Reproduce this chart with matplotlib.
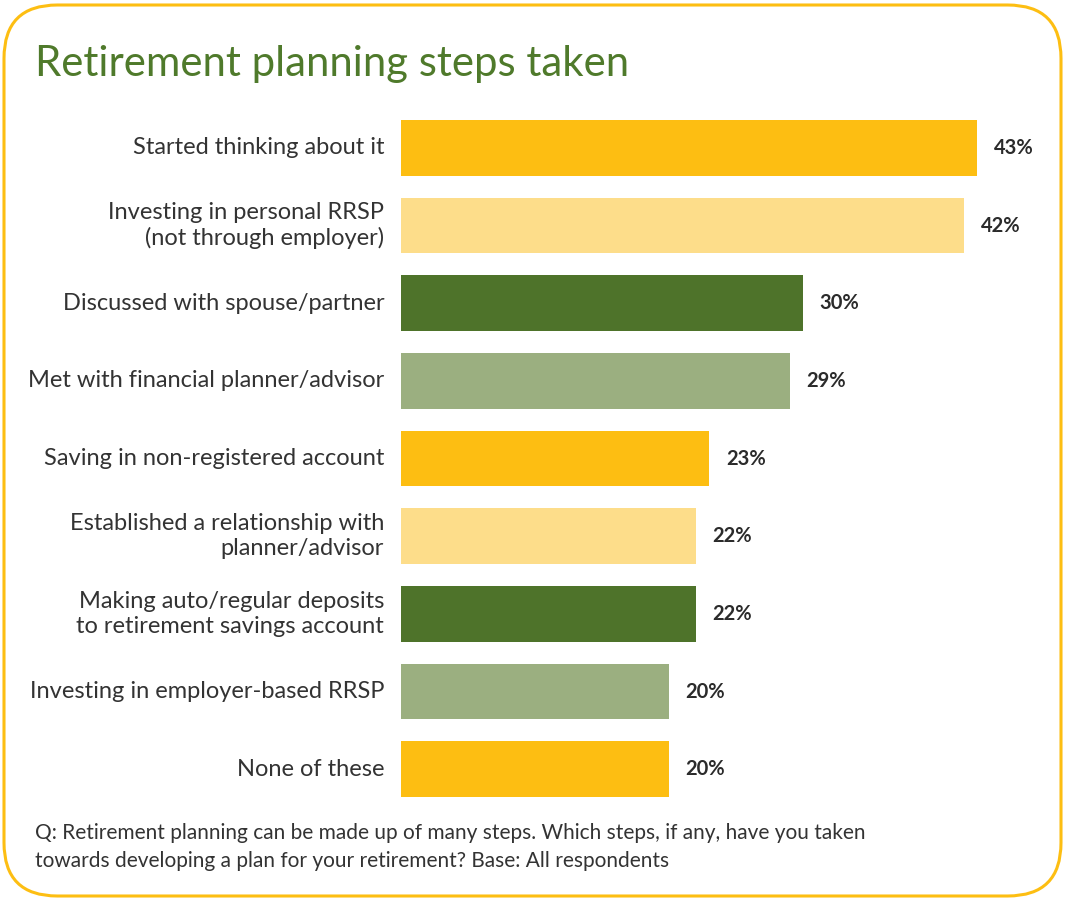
import matplotlib
matplotlib.use("Agg")
import matplotlib.pyplot as plt
from matplotlib.patches import FancyBboxPatch

steps = ["Started thinking about it",
         "Investing in personal RRSP\n(not through employer)",
         "Discussed with spouse/partner",
         "Met with financial planner/advisor",
         "Saving in non-registered account",
         "Established a relationship with\nplanner/advisor",
         "Making auto/regular deposits\nto retirement savings account",
         "Investing in employer-based RRSP",
         "None of these"]
percent = [43, 42, 30, 29, 23, 22, 22, 20, 20]
bar_colors = ["#FDBE12", "#FDDD8A", "#4E732A", "#9BAF80",
              "#FDBE12", "#FDDD8A", "#4E732A", "#9BAF80", "#FDBE12"]

plt.rcParams["font.family"] = ["Lato", "DejaVu Sans"]

W, H = 1066, 901
fig = plt.figure(figsize=(W / 100, H / 100), dpi=100)

# rounded yellow frame
frame = FancyBboxPatch((4 / W, 5 / H), 1057 / W, 891 / H,
                       boxstyle="round,pad=0,rounding_size=0.05",
                       transform=fig.transFigure, fill=False,
                       edgecolor="#FDBE12", linewidth=2.2,
                       mutation_aspect=W / H)
fig.patches.append(frame)

fig.text(35 / W, 1 - 64 / H, "Retirement planning steps taken",
         fontsize=30.2, color="#4F7A2B", va="center", ha="left")

ax = fig.add_axes([401 / W, 1 - 808 / H, (1040 - 401) / W, (808 - 109) / H])
ypos = list(range(len(steps)))
ax.barh(ypos, percent, height=0.72, color=bar_colors)
ax.set_xlim(0, (1040 - 401) / 13.4)
ax.set_ylim(len(steps) - 0.5, -0.5)
ax.axis("off")

for y, label, p in zip(ypos, steps, percent):
    ax.text(-1.25, y, label, ha="right", va="center",
            fontsize=17, color="#333333", linespacing=1.2)
    ax.text(p + 1.25, y, f"{p}%", ha="left", va="center",
            fontsize=14.5, fontweight="bold", color="#2b2b2b")

fig.text(35 / W, 1 - 847 / H,
         "Q: Retirement planning can be made up of many steps. Which steps, if any, have you taken\n"
         "towards developing a plan for your retirement? Base: All respondents",
         fontsize=15, color="#333333", va="center", ha="left",
         linespacing=1.45)

fig.savefig("out.png", dpi=100)
